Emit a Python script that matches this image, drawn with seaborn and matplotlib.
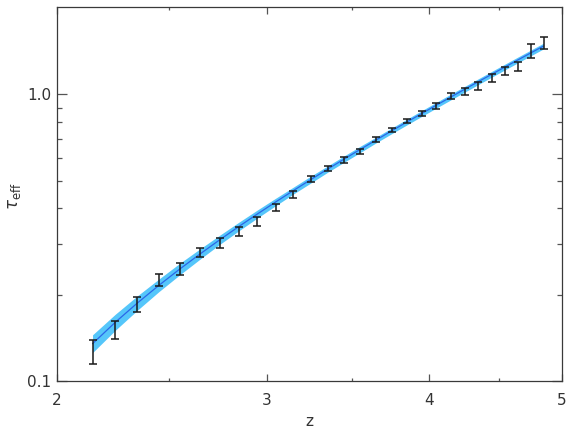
import numpy as np
import pandas as pd
import seaborn as sns
import matplotlib
matplotlib.use("Agg")
import matplotlib.pyplot as plt
from matplotlib.ticker import FixedLocator, NullFormatter

# measured effective optical depth per redshift bin
z_obs = [2.15, 2.25, 2.35, 2.45, 2.55, 2.65, 2.75, 2.85, 2.95, 3.05,
         3.15, 3.25, 3.35, 3.45, 3.55, 3.65, 3.75, 3.85, 3.95, 4.05,
         4.15, 4.25, 4.35, 4.45, 4.55, 4.65, 4.75, 4.85]
tau_obs = [0.127, 0.151, 0.185, 0.226, 0.247, 0.281, 0.304, 0.332, 0.360, 0.404,
           0.447, 0.506, 0.552, 0.589, 0.631, 0.694, 0.751, 0.807, 0.855, 0.910,
           0.985, 1.024, 1.069, 1.140, 1.205, 1.250, 1.420, 1.510]
tau_err = [0.012, 0.011, 0.011, 0.011, 0.012, 0.011, 0.012, 0.012, 0.012, 0.012,
           0.013, 0.013, 0.012, 0.014, 0.013, 0.014, 0.014, 0.015, 0.017, 0.020,
           0.023, 0.025, 0.032, 0.034, 0.037, 0.044, 0.083, 0.071]

# best-fit curve and its uncertainty band
tau_fit = [0.1349, 0.1603, 0.1871, 0.2155, 0.2456, 0.2772, 0.3106, 0.3457, 0.3826, 0.4213,
           0.4618, 0.5043, 0.5487, 0.5951, 0.6435, 0.6939, 0.7465, 0.8012, 0.8581, 0.9172,
           0.9786, 1.0423, 1.1084, 1.1768, 1.2476, 1.3209, 1.3968, 1.4752]
fit_lo = [0.1256, 0.1503, 0.1766, 0.2049, 0.2345, 0.2659, 0.2994, 0.3340, 0.3705, 0.4089,
          0.4492, 0.4905, 0.5350, 0.5802, 0.6274, 0.6781, 0.7295, 0.7829, 0.8385, 0.8963,
          0.9563, 1.0185, 1.0831, 1.1500, 1.2192, 1.2908, 1.3650, 1.4416]
fit_hi = [0.1449, 0.1710, 0.1982, 0.2267, 0.2572, 0.2889, 0.3223, 0.3578, 0.3951, 0.4341,
          0.4747, 0.5184, 0.5628, 0.6104, 0.6600, 0.7101, 0.7639, 0.8199, 0.8781, 0.9386,
          1.0014, 1.0666, 1.1342, 1.2042, 1.2767, 1.3517, 1.4293, 1.5095]

x_major = [2, 3, 4, 5]
x_minor = [2.5, 3.5, 4.5]
y_major = [0.1, 1.0]
y_major_labels = ["0.1", "1.0"]
y_minor = [0.2, 0.3, 0.4, 0.5, 0.6, 0.7, 0.8, 0.9]

fit = pd.DataFrame({"z": z_obs, "tau": tau_fit})

sns.set_style("ticks")
plt.rcParams["font.family"] = ["DejaVu Sans"]

fig = plt.figure(figsize=(5.7, 4.3), dpi=100)
ax = fig.add_axes([0.1, 0.114, 0.886, 0.870])

# x axis is logarithmic in (1+z)
ax.set_xscale("function", functions=(lambda v: np.log10(1 + v),
                                     lambda v: 10 ** v - 1))
ax.set_yscale("log")

ax.fill_between(z_obs, fit_lo, fit_hi, color="#55c6fa", lw=0, zorder=1)
sns.lineplot(data=fit, x="z", y="tau", ax=ax, color="#2a66e8", lw=0.9, zorder=2)
ax.errorbar(z_obs, tau_obs, yerr=tau_err, fmt="none", ecolor="#1a1a1a",
            elinewidth=1.1, capsize=3, capthick=1.1, zorder=3)

ax.set_xlim(2, 5)
ax.set_ylim(0.1, 2.02)

ax.xaxis.set_major_locator(FixedLocator(x_major))
ax.xaxis.set_minor_locator(FixedLocator(x_minor))
ax.set_xticklabels([str(v) for v in x_major])
ax.xaxis.set_minor_formatter(NullFormatter())
ax.yaxis.set_major_locator(FixedLocator(y_major))
ax.yaxis.set_minor_locator(FixedLocator(y_minor))
ax.set_yticklabels(y_major_labels)
ax.yaxis.set_minor_formatter(NullFormatter())

for s in ax.spines.values():
    s.set_color("#3a3a3a")
    s.set_linewidth(0.9)
ax.tick_params(which="both", direction="in", top=True, right=True, width=0.9,
               colors="#555555", labelcolor="#333333", labelsize=11)
ax.tick_params(axis="y", which="major", length=7.5, pad=4)
ax.tick_params(axis="y", which="minor", length=3.8)
ax.tick_params(axis="x", which="major", length=5, pad=9)
ax.tick_params(axis="x", which="minor", length=2.5)

ax.set_xlabel("z", fontsize=11, color="#333333", labelpad=4)
ax.set_ylabel("")
fig.text(14 / 570, 1 - 196 / 430, r"$\tau_{\rm eff}$", rotation=90,
         ha="center", va="center", fontsize=12, color="#333333")

fig.savefig("out.png", dpi=100)
